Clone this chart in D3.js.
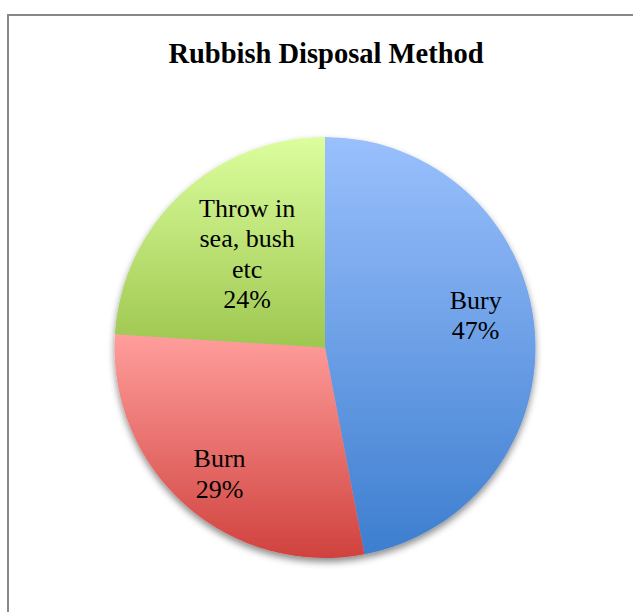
<!DOCTYPE html>
<html>
<head>
<meta charset="utf-8">
<script src="https://cdn.jsdelivr.net/npm/d3@7"></script>
<style>
  html, body { margin: 0; padding: 0; background: #fff; }
  svg { display: block; }
</style>
</head>
<body>
<svg id="chart" width="633" height="612"></svg>
<script>
// Rubbish disposal shares (percent)
const categories = ["Bury", "Burn", "Throw in sea, bush etc"];
const shares = [47, 29, 24];
const percentLabels = ["47%", "29%", "24%"];

// Per-slice gradient colours, top to bottom
const topColors = ["#9AC0FD", "#FF9E9C", "#DCFE9E"];
const bottomColors = ["#3D7ECF", "#D0423E", "#9EC74F"];

const title = "Rubbish Disposal Method";

const W = 633, H = 612;
const cx = 325, cy = 347.5, R = 210.5;
const serif = "'Liberation Serif', 'Times New Roman', Times, serif";

const svg = d3.select("#chart");
const defs = svg.append("defs");

// soft shadow under the pie
const shadow = defs.append("filter")
  .attr("id", "pieShadow")
  .attr("x", "-10%").attr("y", "-10%")
  .attr("width", "120%").attr("height", "125%");
shadow.append("feDropShadow")
  .attr("dx", 0).attr("dy", 4)
  .attr("stdDeviation", 3.5)
  .attr("flood-color", "#000")
  .attr("flood-opacity", 0.45);

categories.forEach((c, i) => {
  const g = defs.append("linearGradient")
    .attr("id", "grad" + i)
    .attr("x1", 0).attr("y1", 0).attr("x2", 0).attr("y2", 1);
  g.append("stop").attr("offset", "0%").attr("stop-color", topColors[i]);
  g.append("stop").attr("offset", "100%").attr("stop-color", bottomColors[i]);
});

// chart frame
svg.append("rect")
  .attr("x", 8).attr("y", 15)
  .attr("width", W + 20).attr("height", H + 20)
  .attr("fill", "none")
  .attr("stroke", "#888")
  .attr("stroke-width", 2);

svg.append("text")
  .attr("x", 326).attr("y", 63)
  .attr("text-anchor", "middle")
  .attr("font-family", serif)
  .attr("font-weight", "bold")
  .attr("font-size", 28.5)
  .attr("fill", "#000")
  .text(title);

const data = categories.map((c, i) => ({ name: c, value: shares[i], pct: percentLabels[i], idx: i }));

const pie = d3.pie().sort(null).value(d => d.value);
const arcs = pie(data);
const arc = d3.arc().innerRadius(0).outerRadius(R);
const labelArc = d3.arc().innerRadius(R * 0.7).outerRadius(R * 0.7);

const gPie = svg.append("g").attr("transform", `translate(${cx},${cy})`);

gPie.append("g")
  .attr("filter", "url(#pieShadow)")
  .selectAll("path")
  .data(arcs)
  .join("path")
  .attr("d", arc)
  .attr("fill", d => `url(#grad${d.data.idx})`);

// label nudges from the arc centroid
const nudge = { "Bury": [4, -18], "Burn": [-8, 16], "Throw in sea, bush etc": [23, 14] };
const fontSize = 26, lineH = 30.5, wrapWidth = 110;

const measure = svg.append("text")
  .attr("font-family", serif).attr("font-size", fontSize)
  .attr("visibility", "hidden");
function wrap(str) {
  const words = str.split(" ");
  const lines = [];
  let cur = "";
  words.forEach(w => {
    const trial = cur ? cur + " " + w : w;
    measure.text(trial);
    if (cur && measure.node().getComputedTextLength() > wrapWidth) {
      lines.push(cur);
      cur = w;
    } else {
      cur = trial;
    }
  });
  if (cur) lines.push(cur);
  return lines;
}

arcs.forEach(a => {
  const [x0, y0] = labelArc.centroid(a);
  const [nx, ny] = nudge[a.data.name];
  const lines = wrap(a.data.name).concat([a.data.pct]);
  const firstBase = y0 + ny - (lines.length - 1) * lineH / 2 + 8.5;
  const t = gPie.append("text")
    .attr("text-anchor", "middle")
    .attr("font-family", serif)
    .attr("font-size", fontSize)
    .attr("fill", "#000");
  lines.forEach((ln, k) => {
    t.append("tspan")
      .attr("x", x0 + nx)
      .attr("y", firstBase + k * lineH)
      .text(ln);
  });
});
measure.remove();
</script>
</body>
</html>
